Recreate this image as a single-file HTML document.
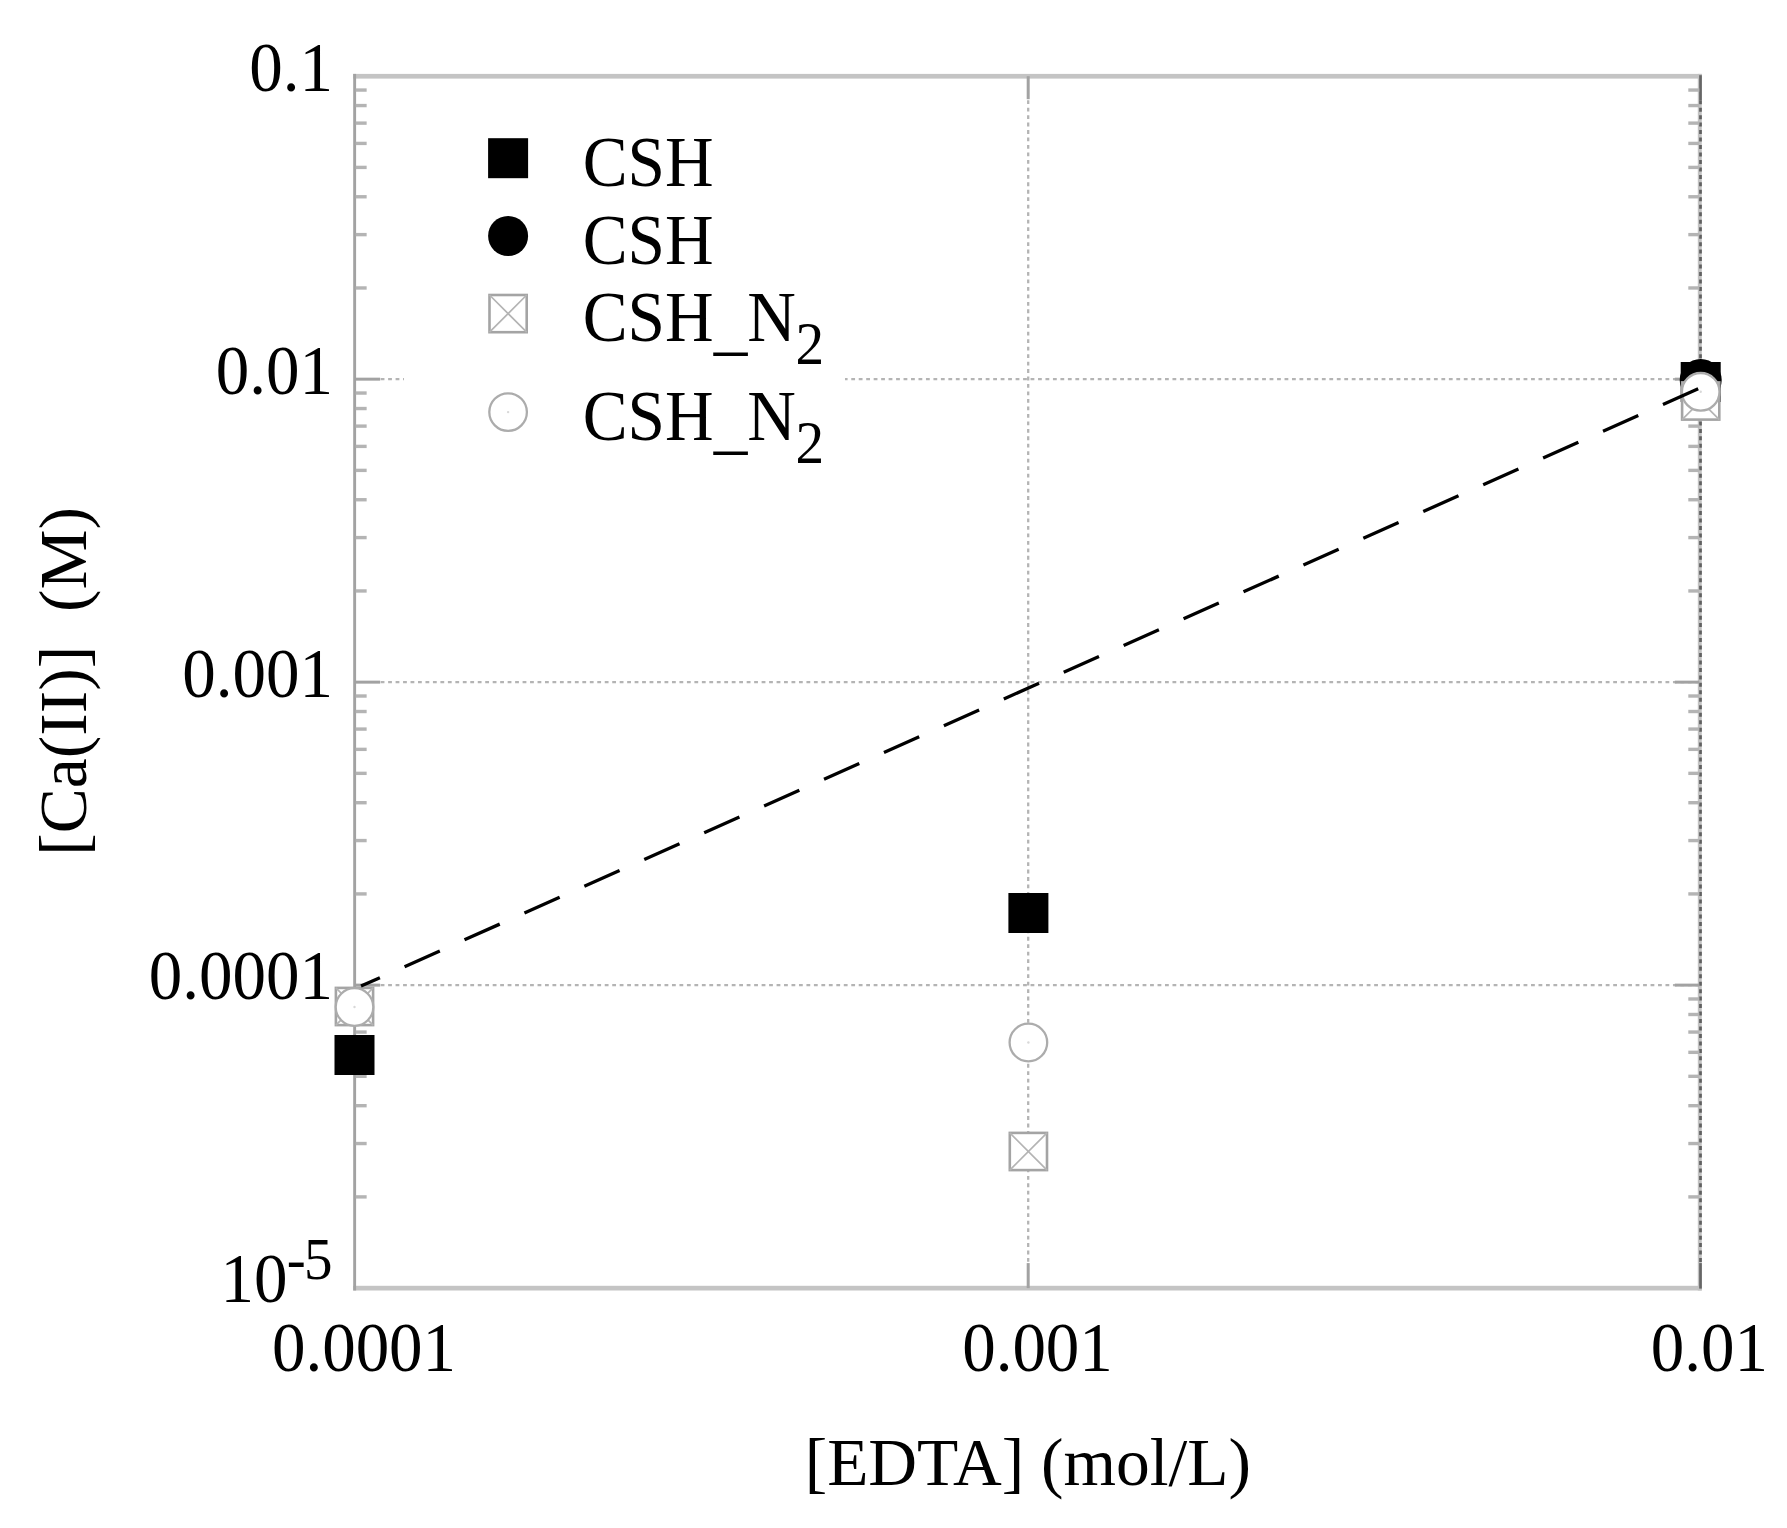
<!DOCTYPE html>
<html lang="en"><head><meta charset="utf-8"><title>[Ca(II)] vs [EDTA]</title>
<style>html,body{margin:0;padding:0;background:#fff}svg{display:block;filter:blur(0.75px)}text{font-family:"Liberation Serif","Times New Roman",serif;fill:#000}</style></head><body>
<svg width="1787" height="1528" viewBox="0 0 1787 1528">
<rect x="0" y="0" width="1787" height="1528" fill="#fff"/>
<g id="chart">
<g stroke="#b4b4b4" stroke-width="2.3" stroke-dasharray="3.8 3.67" fill="none">
<line x1="380.65" y1="379.17" x2="1698.30" y2="379.17"/>
<line x1="380.65" y1="682.15" x2="1698.30" y2="682.15"/>
<line x1="380.65" y1="985.12" x2="1698.30" y2="985.12"/>
<line x1="1028.20" y1="100.20" x2="1028.20" y2="1263.10"/>
</g>
<rect x="404" y="100" width="441" height="400" fill="#fff"/>
<rect x="353.15" y="73.90" width="1348.65" height="4.7" fill="#c4c4c4"/>
<rect x="353.15" y="1285.80" width="1348.65" height="4.7" fill="#c4c4c4"/>
<rect x="353.20" y="73.90" width="2.9" height="1216.60" fill="#a2a2a2"/>
<rect x="1697.80" y="73.90" width="4.0" height="1216.60" fill="#c2c2c2"/>
<line x1="1700.50" y1="100.20" x2="1700.50" y2="1263.10" stroke="#606060" stroke-width="2.7" stroke-dasharray="4 3.47"/>
<line x1="1700.50" y1="75.20" x2="1700.50" y2="100.20" stroke="#666" stroke-width="2.7"/>
<line x1="1700.50" y1="1263.10" x2="1700.50" y2="1288.60" stroke="#666" stroke-width="2.7"/>
<g stroke="#b4b4b4" stroke-width="3.4">
<line x1="355.65" y1="287.97" x2="366.65" y2="287.97"/>
<line x1="1688.30" y1="287.97" x2="1699.30" y2="287.97"/>
<line x1="355.65" y1="234.62" x2="366.65" y2="234.62"/>
<line x1="1688.30" y1="234.62" x2="1699.30" y2="234.62"/>
<line x1="355.65" y1="196.77" x2="366.65" y2="196.77"/>
<line x1="1688.30" y1="196.77" x2="1699.30" y2="196.77"/>
<line x1="355.65" y1="167.40" x2="366.65" y2="167.40"/>
<line x1="1688.30" y1="167.40" x2="1699.30" y2="167.40"/>
<line x1="355.65" y1="143.41" x2="366.65" y2="143.41"/>
<line x1="1688.30" y1="143.41" x2="1699.30" y2="143.41"/>
<line x1="355.65" y1="123.13" x2="366.65" y2="123.13"/>
<line x1="1688.30" y1="123.13" x2="1699.30" y2="123.13"/>
<line x1="355.65" y1="105.56" x2="366.65" y2="105.56"/>
<line x1="1688.30" y1="105.56" x2="1699.30" y2="105.56"/>
<line x1="355.65" y1="90.06" x2="366.65" y2="90.06"/>
<line x1="1688.30" y1="90.06" x2="1699.30" y2="90.06"/>
<line x1="355.65" y1="590.95" x2="366.65" y2="590.95"/>
<line x1="1688.30" y1="590.95" x2="1699.30" y2="590.95"/>
<line x1="355.65" y1="537.59" x2="366.65" y2="537.59"/>
<line x1="1688.30" y1="537.59" x2="1699.30" y2="537.59"/>
<line x1="355.65" y1="499.74" x2="366.65" y2="499.74"/>
<line x1="1688.30" y1="499.74" x2="1699.30" y2="499.74"/>
<line x1="355.65" y1="470.38" x2="366.65" y2="470.38"/>
<line x1="1688.30" y1="470.38" x2="1699.30" y2="470.38"/>
<line x1="355.65" y1="446.39" x2="366.65" y2="446.39"/>
<line x1="1688.30" y1="446.39" x2="1699.30" y2="446.39"/>
<line x1="355.65" y1="426.11" x2="366.65" y2="426.11"/>
<line x1="1688.30" y1="426.11" x2="1699.30" y2="426.11"/>
<line x1="355.65" y1="408.54" x2="366.65" y2="408.54"/>
<line x1="1688.30" y1="408.54" x2="1699.30" y2="408.54"/>
<line x1="355.65" y1="393.04" x2="366.65" y2="393.04"/>
<line x1="1688.30" y1="393.04" x2="1699.30" y2="393.04"/>
<line x1="355.65" y1="893.92" x2="366.65" y2="893.92"/>
<line x1="1688.30" y1="893.92" x2="1699.30" y2="893.92"/>
<line x1="355.65" y1="840.57" x2="366.65" y2="840.57"/>
<line x1="1688.30" y1="840.57" x2="1699.30" y2="840.57"/>
<line x1="355.65" y1="802.72" x2="366.65" y2="802.72"/>
<line x1="1688.30" y1="802.72" x2="1699.30" y2="802.72"/>
<line x1="355.65" y1="773.35" x2="366.65" y2="773.35"/>
<line x1="1688.30" y1="773.35" x2="1699.30" y2="773.35"/>
<line x1="355.65" y1="749.36" x2="366.65" y2="749.36"/>
<line x1="1688.30" y1="749.36" x2="1699.30" y2="749.36"/>
<line x1="355.65" y1="729.08" x2="366.65" y2="729.08"/>
<line x1="1688.30" y1="729.08" x2="1699.30" y2="729.08"/>
<line x1="355.65" y1="711.51" x2="366.65" y2="711.51"/>
<line x1="1688.30" y1="711.51" x2="1699.30" y2="711.51"/>
<line x1="355.65" y1="696.01" x2="366.65" y2="696.01"/>
<line x1="1688.30" y1="696.01" x2="1699.30" y2="696.01"/>
<line x1="355.65" y1="1196.90" x2="366.65" y2="1196.90"/>
<line x1="1688.30" y1="1196.90" x2="1699.30" y2="1196.90"/>
<line x1="355.65" y1="1143.54" x2="366.65" y2="1143.54"/>
<line x1="1688.30" y1="1143.54" x2="1699.30" y2="1143.54"/>
<line x1="355.65" y1="1105.69" x2="366.65" y2="1105.69"/>
<line x1="1688.30" y1="1105.69" x2="1699.30" y2="1105.69"/>
<line x1="355.65" y1="1076.33" x2="366.65" y2="1076.33"/>
<line x1="1688.30" y1="1076.33" x2="1699.30" y2="1076.33"/>
<line x1="355.65" y1="1052.34" x2="366.65" y2="1052.34"/>
<line x1="1688.30" y1="1052.34" x2="1699.30" y2="1052.34"/>
<line x1="355.65" y1="1032.06" x2="366.65" y2="1032.06"/>
<line x1="1688.30" y1="1032.06" x2="1699.30" y2="1032.06"/>
<line x1="355.65" y1="1014.49" x2="366.65" y2="1014.49"/>
<line x1="1688.30" y1="1014.49" x2="1699.30" y2="1014.49"/>
<line x1="355.65" y1="998.99" x2="366.65" y2="998.99"/>
<line x1="1688.30" y1="998.99" x2="1699.30" y2="998.99"/>
</g>
<g stroke="#a2a2a2" stroke-width="3">
<line x1="355.65" y1="379.17" x2="380.15" y2="379.17"/>
<line x1="1674.80" y1="379.17" x2="1699.30" y2="379.17"/>
<line x1="355.65" y1="682.15" x2="380.15" y2="682.15"/>
<line x1="1674.80" y1="682.15" x2="1699.30" y2="682.15"/>
<line x1="355.65" y1="985.12" x2="380.15" y2="985.12"/>
<line x1="1674.80" y1="985.12" x2="1699.30" y2="985.12"/>
<line x1="1028.20" y1="76.20" x2="1028.20" y2="99.20"/>
<line x1="1028.20" y1="1263.10" x2="1028.20" y2="1288.10"/>
</g>
<rect x="334.50" y="1035.00" width="40" height="40" fill="#000"/>
<rect x="1008.40" y="893.00" width="40" height="40" fill="#000"/>
<rect x="1680.70" y="362.00" width="40" height="40" fill="#000"/>
<circle cx="1700.70" cy="380.00" r="21" fill="#000"/>
<g stroke="#a4a4a4" fill="#fff"><rect x="335.90" y="987.90" width="37.20" height="37.20" stroke-width="2.6"/><path d="M335.90 987.90L373.10 1025.10M373.10 987.90L335.90 1025.10" stroke-width="1.7" stroke="#b4b4b4" fill="none"/></g>
<g stroke="#a4a4a4" fill="#fff"><rect x="1009.80" y="1132.90" width="37.20" height="37.20" stroke-width="2.6"/><path d="M1009.80 1132.90L1047.00 1170.10M1047.00 1132.90L1009.80 1170.10" stroke-width="1.7" stroke="#b4b4b4" fill="none"/></g>
<g stroke="#a4a4a4" fill="#fff"><rect x="1682.10" y="382.40" width="37.20" height="37.20" stroke-width="2.6"/><path d="M1682.10 382.40L1719.30 419.60M1719.30 382.40L1682.10 419.60" stroke-width="1.7" stroke="#b4b4b4" fill="none"/></g>
<circle cx="354.50" cy="1007.00" r="18.8" fill="#fff" stroke="#acacac" stroke-width="2.3"/><circle cx="354.50" cy="1007.00" r="1.2" fill="#d8d8d8"/>
<circle cx="1028.40" cy="1042.50" r="18.8" fill="#fff" stroke="#acacac" stroke-width="2.3"/><circle cx="1028.40" cy="1042.50" r="1.2" fill="#d8d8d8"/>
<circle cx="1700.70" cy="391.80" r="18.8" fill="#fff" stroke="#acacac" stroke-width="2.3"/><circle cx="1700.70" cy="391.80" r="1.2" fill="#d8d8d8"/>
<path d="M361 986.1L1698.5 388.6" stroke="#000" stroke-width="3.3" fill="none" stroke-dasharray="38.6 27.03" stroke-dashoffset="17.9"/>
<rect x="488.10" y="138.20" width="40" height="40" fill="#000"/>
<circle cx="508.10" cy="236.00" r="20" fill="#000"/>
<g stroke="#a4a4a4" fill="#fff"><rect x="489.50" y="295.00" width="37.20" height="37.20" stroke-width="2.6"/><path d="M489.50 295.00L526.70 332.20M526.70 295.00L489.50 332.20" stroke-width="1.7" stroke="#b4b4b4" fill="none"/></g>
<circle cx="508.10" cy="412.10" r="18.8" fill="#fff" stroke="#acacac" stroke-width="2.3"/><circle cx="508.10" cy="412.10" r="1.2" fill="#d8d8d8"/>
</g>
<g font-size="67">
<text transform="translate(582.7 185.6) scale(1.005 1.06)" text-anchor="start">CSH</text>
<text transform="translate(582.7 263.6) scale(1.005 1.06)" text-anchor="start">CSH</text>
<text transform="translate(582.7 341.0) scale(1.005 1.06)" text-anchor="start">CSH<tspan dy="5.3">_</tspan><tspan dy="-5.3">N</tspan><tspan font-size="57" dy="21.7" dx="-0.4">2</tspan></text>
<text transform="translate(582.7 440.0) scale(1.005 1.06)" text-anchor="start">CSH<tspan dy="5.3">_</tspan><tspan dy="-5.3">N</tspan><tspan font-size="57" dy="21.7" dx="-0.4">2</tspan></text>
<text transform="translate(333 90.5) scale(1 1.03)" text-anchor="end">0.1</text>
<text transform="translate(333 394) scale(1 1.03)" text-anchor="end">0.01</text>
<text transform="translate(333 697) scale(1 1.03)" text-anchor="end">0.001</text>
<text transform="translate(333 998.5) scale(1 1.03)" text-anchor="end">0.0001</text>
<text transform="translate(220.6 1301.5) scale(1 1.03)" text-anchor="start">10</text>
<text transform="translate(286.7 1279.3) scale(1 1.03)" font-size="57">-<tspan dx="-1.8">5</tspan></text>
<text transform="translate(364 1370.5) scale(1 1.03)" text-anchor="middle">0.0001</text>
<text transform="translate(1037.5 1370.5) scale(1 1.03)" text-anchor="middle">0.001</text>
<text transform="translate(1709.3 1370.5) scale(1 1.03)" text-anchor="middle">0.01</text>
<text transform="translate(1027.8 1485.3) scale(1.0076 1.02)" text-anchor="middle">[EDTA] (mol/L)</text>
<text transform="translate(85.5 681.4) rotate(-90) scale(1.0076 1)" text-anchor="middle">[Ca(II)]&#160;&#160;(M)</text>
</g>
<defs><filter id="soft" x="-2%" y="-2%" width="104%" height="104%"><feGaussianBlur stdDeviation="0.6"/></filter></defs>
</svg></body></html>
